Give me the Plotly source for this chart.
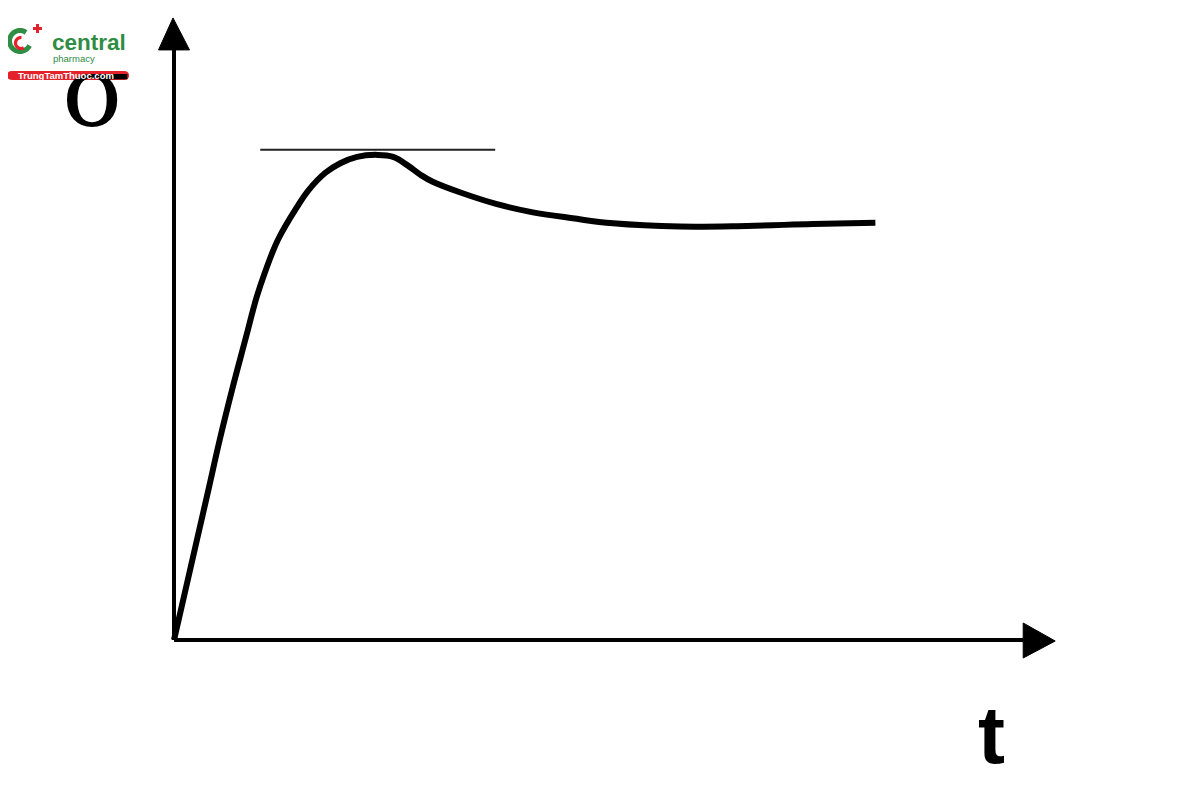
import numpy as np
import plotly.graph_objects as go

# ---- data (arbitrary units) ----
t_vals = [0.0, 0.13, 0.26, 0.39, 0.52, 0.66, 0.81, 0.94, 1.03, 1.18, 1.40, 1.53, 1.72,
          1.89, 2.08, 2.31, 2.49, 2.65, 2.80, 2.94, 3.28, 3.67, 4.05, 4.53, 4.99,
          5.75, 6.51, 7.26, 7.97]
sigma_vals = [0.0, 0.78, 1.56, 2.34, 3.13, 3.91, 4.69, 5.36, 5.73, 6.25, 6.77, 7.03, 7.30,
              7.45, 7.55, 7.58, 7.55, 7.42, 7.27, 7.16, 6.98, 6.81, 6.69, 6.59, 6.51,
              6.46, 6.47, 6.50, 6.52]
peak_line_t = [0.98, 3.65]
peak_line_sigma = [7.66, 7.66]
t_axis_max = 9.65       # where the t-axis arrow head starts
sigma_axis_max = 9.22   # where the sigma-axis arrow head starts
x_label = "t"
y_label = "σ"

W, H = 1200, 800
M = 8                          # page body margin of the browser
PX_T, PX_S = 88.0, 64.0        # pixels per unit
OX, OY = 174.0 - M, 640.0 - M  # origin in figure pixels

GREEN = "#2f8d44"
RED = "#e3222b"


def px(x):
    return (x - M) / W


def py(y):
    return 1 - (y - M) / H


fig = go.Figure()

# main curve
fig.add_trace(go.Scatter(
    x=t_vals, y=sigma_vals, mode="lines",
    line=dict(color="black", width=6, shape="spline", smoothing=1.1),
    hoverinfo="skip", showlegend=False))

# horizontal line at peak
fig.add_trace(go.Scatter(
    x=peak_line_t, y=peak_line_sigma, mode="lines",
    line=dict(color="#222222", width=2), hoverinfo="skip", showlegend=False))

shapes = []
# axes
shapes.append(dict(type="line", xref="x", yref="y", x0=0, y0=0, x1=0, y1=sigma_axis_max,
                   line=dict(color="black", width=4)))
shapes.append(dict(type="line", xref="x", yref="y", x0=0, y0=0, x1=t_axis_max, y1=0,
                   line=dict(color="black", width=4)))
# arrow heads
shapes.append(dict(type="path", xref="x", yref="y", xsizemode="pixel", ysizemode="pixel",
                   xanchor=0, yanchor=sigma_axis_max,
                   path="M -15.5,0 L 15.5,0 L -1,32 Z",
                   fillcolor="black", line=dict(color="black", width=1)))
shapes.append(dict(type="path", xref="x", yref="y", xsizemode="pixel", ysizemode="pixel",
                   xanchor=t_axis_max, yanchor=0,
                   path="M 0,17 L 0,-18 L 32,-1 Z",
                   fillcolor="black", line=dict(color="black", width=1)))


# ---- logo (top-left), coordinates in screen pixels ----
def arc_path(cx, cy, r, a0, a1, n=40):
    a = np.radians(np.linspace(a0, a1, n))
    xs = (cx - M) + r * np.cos(a)
    ys = -(cy - M) + r * np.sin(a)
    return "M " + " L ".join(f"{x:.2f},{y:.2f}" for x, y in zip(xs, ys))


logo = dict(xref="paper", yref="paper", xsizemode="pixel", ysizemode="pixel", xanchor=0, yanchor=1)
shapes.append(dict(type="path", path=arc_path(20, 41, 10.5, 55, 335),
                   line=dict(color=GREEN, width=5), **logo))
shapes.append(dict(type="path", path=arc_path(21, 43, 5.5, 85, 300),
                   line=dict(color=RED, width=3.2), **logo))
shapes.append(dict(type="line", x0=37.5 - M, x1=37.5 - M, y0=-(24 - M), y1=-(33 - M),
                   line=dict(color=RED, width=3), **logo))
shapes.append(dict(type="line", x0=33 - M, x1=42 - M, y0=-(28.5 - M), y1=-(28.5 - M),
                   line=dict(color=RED, width=3), **logo))
bar = [(12, 71), (124, 71), (129, 71), (129, 75.5), (129, 80), (124, 80),
       (12, 80), (7, 80), (7, 75.5), (7, 71), (12, 71)]
b = [(x - M, -(y - M)) for x, y in bar]
bar_path = (f"M {b[0][0]},{b[0][1]} L {b[1][0]},{b[1][1]} Q {b[2][0]},{b[2][1]} {b[3][0]},{b[3][1]} "
            f"Q {b[4][0]},{b[4][1]} {b[5][0]},{b[5][1]} L {b[6][0]},{b[6][1]} "
            f"Q {b[7][0]},{b[7][1]} {b[8][0]},{b[8][1]} Q {b[9][0]},{b[9][1]} {b[10][0]},{b[10][1]} Z")
shapes.append(dict(type="path", path=bar_path, fillcolor=RED, line=dict(width=0), **logo))

annotations = [
    dict(text=y_label, x=px(96), y=py(92), xref="paper", yref="paper",
         showarrow=False, xanchor="center", yanchor="middle",
         font=dict(family="DejaVu Serif", size=100, color="black")),
    dict(text=f"<b>{x_label}</b>", x=px(992), y=py(735), xref="paper", yref="paper",
         showarrow=False, xanchor="center", yanchor="middle",
         font=dict(family="Liberation Sans", size=81, color="black")),
    dict(text="<b>central</b>", x=px(50), y=py(43), xref="paper", yref="paper",
         showarrow=False, xanchor="left", yanchor="middle",
         font=dict(family="Liberation Sans", size=22.5, color=GREEN)),
    dict(text="pharmacy", x=px(51), y=py(58), xref="paper", yref="paper",
         showarrow=False, xanchor="left", yanchor="middle",
         font=dict(family="Liberation Sans", size=9.5, color=GREEN)),
    dict(text="<b>TrungTamThuoc.com</b>", x=px(66), y=py(75.5), xref="paper", yref="paper",
         showarrow=False, xanchor="center", yanchor="middle",
         font=dict(family="Liberation Sans", size=9.5, color="white")),
]

fig.update_layout(
    width=W, height=H,
    margin=dict(l=0, r=0, t=0, b=0),
    paper_bgcolor="white", plot_bgcolor="white",
    xaxis=dict(range=[-OX / PX_T, (W - OX) / PX_T], visible=False, fixedrange=True),
    yaxis=dict(range=[-(H - OY) / PX_S, OY / PX_S], visible=False, fixedrange=True),
    shapes=shapes, annotations=annotations, showlegend=False,
)

fig.write_html("out.html")
